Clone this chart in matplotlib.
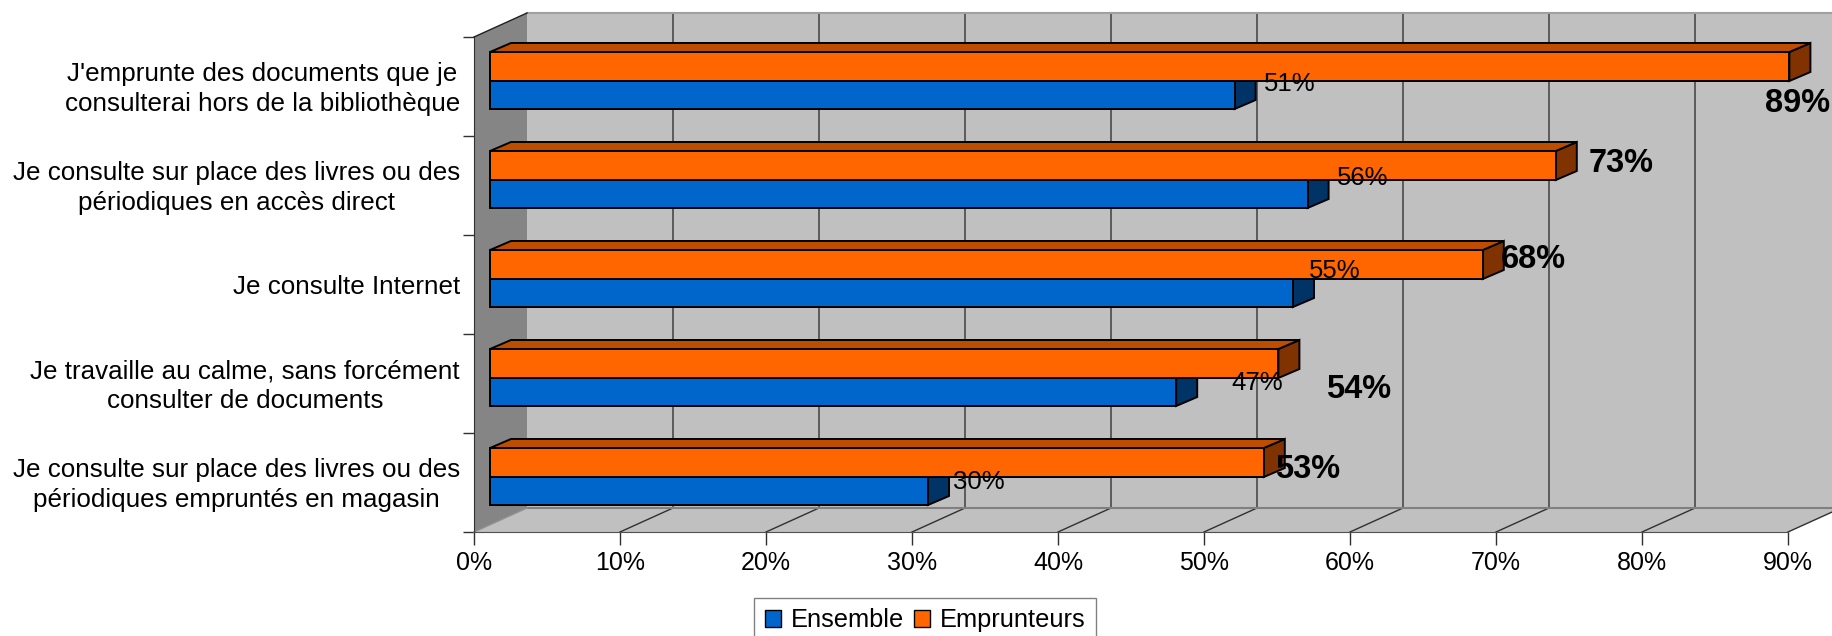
import matplotlib
matplotlib.use("Agg")
import matplotlib.pyplot as plt
from matplotlib.patches import Polygon, Patch

categories = [
    "J'emprunte des documents que je\nconsulterai hors de la bibliothèque",
    "Je consulte sur place des livres ou des\npériodiques en accès direct",
    "Je consulte Internet",
    "Je travaille au calme, sans forcément\nconsulter de documents",
    "Je consulte sur place des livres ou des\npériodiques empruntés en magasin",
]
ensemble = [51, 56, 55, 47, 30]
emprunteurs = [89, 73, 68, 54, 53]
x_ticks = [0, 10, 20, 30, 40, 50, 60, 70, 80, 90]

# pixel offsets of the value labels from the end of each bar
ens_dx = [29, 29, 16, 55, 25]
ens_dy = [47, 42, 36, 49, 49]
emp_dx = [-24, 33, 18, 48, 11]
emp_dy = [67, 27, 24, 55, 37]

W, H = 1833, 636
plt.rcParams['font.family'] = ['Liberation Sans', 'DejaVu Sans']

fig = plt.figure(figsize=(W / 100, H / 100), dpi=100)
ax = fig.add_axes([474 / W, 1 - 532 / H, 1314 / W, 495 / H])
ax.set_xlim(0, 90)
ax.set_ylim(5, 0)
ax.patch.set_visible(False)

# sizes of the 3d look, in data units
px = 90 / 1314
py = 5 / 495
wall_dx, wall_dy = 53 * px, 24 * py
bar_x0, bar_dx, bar_dy = 16 * px, 21 * px, 9 * py
row_top, row_mid, row_bot = 15 * py, 44 * py, 72 * py


def poly(points, color, edge="none", lw=0.0, z=1):
    ax.add_patch(Polygon(points, closed=True, facecolor=color, edgecolor=edge,
                         linewidth=lw, clip_on=False, zorder=z, joinstyle="miter"))


# walls and floor
far_x = 90 + wall_dx
poly([(wall_dx, -wall_dy), (far_x, -wall_dy), (far_x, 5 - wall_dy), (wall_dx, 5 - wall_dy)], "#c0c0c0")
poly([(0, 5), (90, 5), (far_x, 5 - wall_dy), (wall_dx, 5 - wall_dy)], "#c0c0c0")
poly([(0, 0), (wall_dx, -wall_dy), (wall_dx, 5 - wall_dy), (0, 5)], "#858585")

for t in x_ticks[1:]:
    ax.plot([t + wall_dx, t + wall_dx], [-wall_dy, 5 - wall_dy], color="#404040", lw=1.1, clip_on=False, zorder=2)
    ax.plot([t, t + wall_dx], [5, 5 - wall_dy], color="#303030", lw=1.0, clip_on=False, zorder=2)
ax.plot([wall_dx, far_x], [-wall_dy, -wall_dy], color="#a0a0a0", lw=1.5, clip_on=False, zorder=2)
ax.plot([wall_dx, far_x], [5 - wall_dy, 5 - wall_dy], color="#808080", lw=1.5, clip_on=False, zorder=2)
ax.plot([0, wall_dx], [0, -wall_dy], color="#202020", lw=1.0, clip_on=False, zorder=2)
ax.plot([0, wall_dx], [5, 5 - wall_dy], color="#909090", lw=1.0, clip_on=False, zorder=2)


def bar3d(value, top, bottom, front, side, lid, z):
    x1 = bar_x0 + value
    poly([(x1, top), (x1 + bar_dx, top - bar_dy), (x1 + bar_dx, bottom - bar_dy), (x1, bottom)],
         side, "black", 1.4, z)
    poly([(bar_x0, top), (bar_x0 + bar_dx, top - bar_dy), (x1 + bar_dx, top - bar_dy), (x1, top)],
         lid, "black", 1.4, z)
    poly([(bar_x0, top), (x1, top), (x1, bottom), (bar_x0, bottom)], front, "black", 1.4, z)
    return x1


for i in range(len(categories)):
    x_ens = bar3d(ensemble[i], i + row_mid, i + row_bot, "#0066cc", "#003366", "#004d99", 3 + i * 2)
    x_emp = bar3d(emprunteurs[i], i + row_top, i + row_mid, "#ff6600", "#803300", "#bf4d00", 4 + i * 2)
    ax.annotate(f"{ensemble[i]}%", xy=(x_ens, i), xytext=(ens_dx[i], -ens_dy[i]),
                textcoords="offset pixels", va="center", ha="left", fontsize=18.5, zorder=20,
                annotation_clip=False)
    ax.annotate(f"{emprunteurs[i]}%", xy=(x_emp, i), xytext=(emp_dx[i], -emp_dy[i]),
                textcoords="offset pixels", va="center", ha="left", fontsize=23.5, fontweight="bold",
                zorder=20, annotation_clip=False)

# axes
for name in ["top", "right"]:
    ax.spines[name].set_visible(False)
ax.spines["left"].set_color("#303030")
ax.spines["bottom"].set_color("#505050")
ax.spines["left"].set_zorder(15)
ax.spines["bottom"].set_zorder(15)

ax.set_xticks(x_ticks)
ax.set_xticklabels([f"{t}%" for t in x_ticks], fontsize=18)
ax.tick_params(axis="x", length=9, width=1.0, color="#303030", pad=5)
ax.set_yticks([i + (0.47 if "\n" in c else 0.5) for i, c in enumerate(categories)])
ax.set_yticklabels(categories, fontsize=18.7, multialignment="center", linespacing=1.3)
ax.set_yticks(range(len(categories) + 1), minor=True)
ax.tick_params(axis="y", which="major", length=0, pad=10)
ax.tick_params(axis="y", which="minor", length=8, width=1.0, color="#303030")

handles = [Patch(facecolor="#0066cc", edgecolor="black", label="Ensemble"),
           Patch(facecolor="#ff6600", edgecolor="black", label="Emprunteurs")]
leg = fig.legend(handles=handles, loc="lower center", bbox_to_anchor=(925 / W, -0.010), ncol=2,
                 fontsize=18.3, fancybox=False, framealpha=1, edgecolor="#808080",
                 handlelength=0.65, handleheight=0.65, handletextpad=0.37, columnspacing=0.4,
                 borderpad=0.4, borderaxespad=0)

fig.savefig("out.png", dpi=100)
